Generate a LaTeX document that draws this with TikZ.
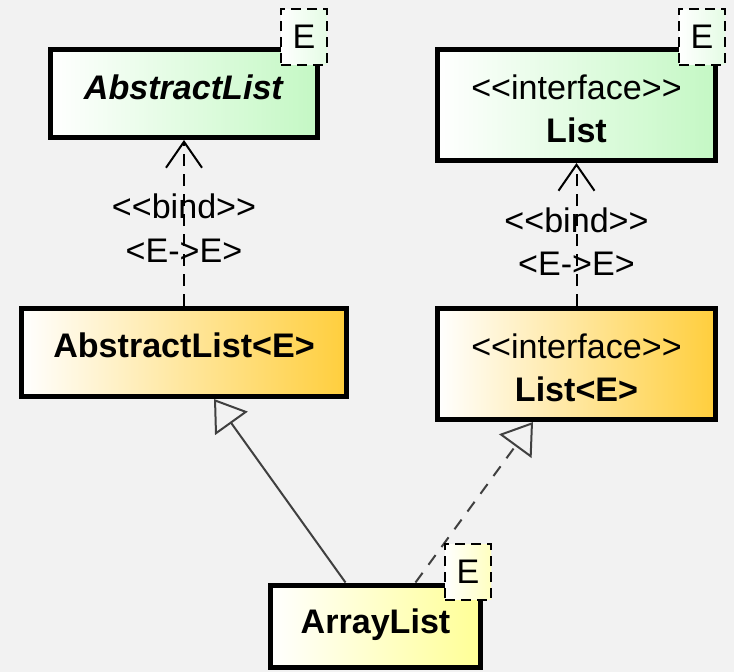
\documentclass[tikz,border=0pt]{standalone}
\usepackage{fontspec}
\setmainfont{Liberation Sans}
\usepackage{tikz}
\usetikzlibrary{arrows.meta, positioning, calc}

\definecolor{canvas}{RGB}{242,242,242}
\definecolor{classgreen}{RGB}{196,248,196}
\definecolor{classorange}{RGB}{255,206,60}
\definecolor{classyellow}{RGB}{255,255,150}

\newcommand{\stereo}[1]{<\kern0pt<#1>\kern0pt>}

\tikzset{
  umlclass/.style={rectangle, draw=black, line width=0.1cm, inner sep=0pt, align=center},
  generic/.style={umlclass, left color=white, right color=classgreen},
  bound/.style={umlclass, left color=white, right color=classorange},
  concrete/.style={umlclass, left color=white, right color=classyellow},
  template/.style={rectangle, draw=black, line width=0.04cm, dash pattern=on 0.2cm off 0.12cm, minimum width=0.92cm, minimum height=1.12cm, inner sep=0pt},
  bindarrow/.style={-{Straight Barb[length=0.52cm, width=0.72cm]}, line width=0.04cm, dash pattern=on 0.24cm off 0.16cm},
  genarrow/.style={-{Triangle[open, length=0.6cm, width=0.8cm]}, line width=0.04cm, draw=black!75},
}

\begin{document}
\begin{tikzpicture}[x=0.02cm, y=-0.02cm, font=\fontsize{19.4pt}{25pt}\selectfont,
  twoline/.style={minimum width=5.56cm, minimum height=2.22cm, text height=1.52cm, text depth=0pt}]
\path[use as bounding box, fill=canvas] (0,0) rectangle (734,672);

\node[generic, minimum width=5.36cm, minimum height=1.76cm, text depth=0.26cm] (abs) at (184,93.5) {\textbf{\textit{AbstractList}}};
\node[generic, twoline] (lst) at (576.5,105) {\stereo{interface}\\\textbf{List}};
\node[bound, minimum width=6.52cm, minimum height=1.76cm, text depth=0.28cm] (absE) at (184,352.5) {\textbf{AbstractList<E>}};
\node[bound, twoline] (lstE) at (576.5,364) {\stereo{interface}\\\textbf{List<E>}};
\node[concrete, minimum width=4.2cm, minimum height=1.66cm, text depth=0.2cm] (arr) at (375.5,626.5) {\textbf{ArrayList}};

\draw[bindarrow] (absE) -- (abs) node[pos=0.47, align=center]{\stereo{bind}\\<E->E>};
\draw[bindarrow] (lstE) -- (lst) node[pos=0.45, align=center]{\stereo{bind}\\<E->E>};
\draw[genarrow] ([xshift=-0.6cm]arr.north) -- ([xshift=0.6cm]absE.south);
\draw[genarrow, dash pattern=on 0.24cm off 0.2cm] ([xshift=0.8cm]arr.north) -- ([xshift=-0.87cm]lstE.south);

\node[template, left color=white, right color=classgreen!45] (absT) at (304,37) {E};
\node[template, left color=white, right color=classgreen!45] (lstT) at (702,37) {E};
\node[template, left color=white, right color=classyellow!60] (arrT) at (468,572) {E};
\end{tikzpicture}
\end{document}
